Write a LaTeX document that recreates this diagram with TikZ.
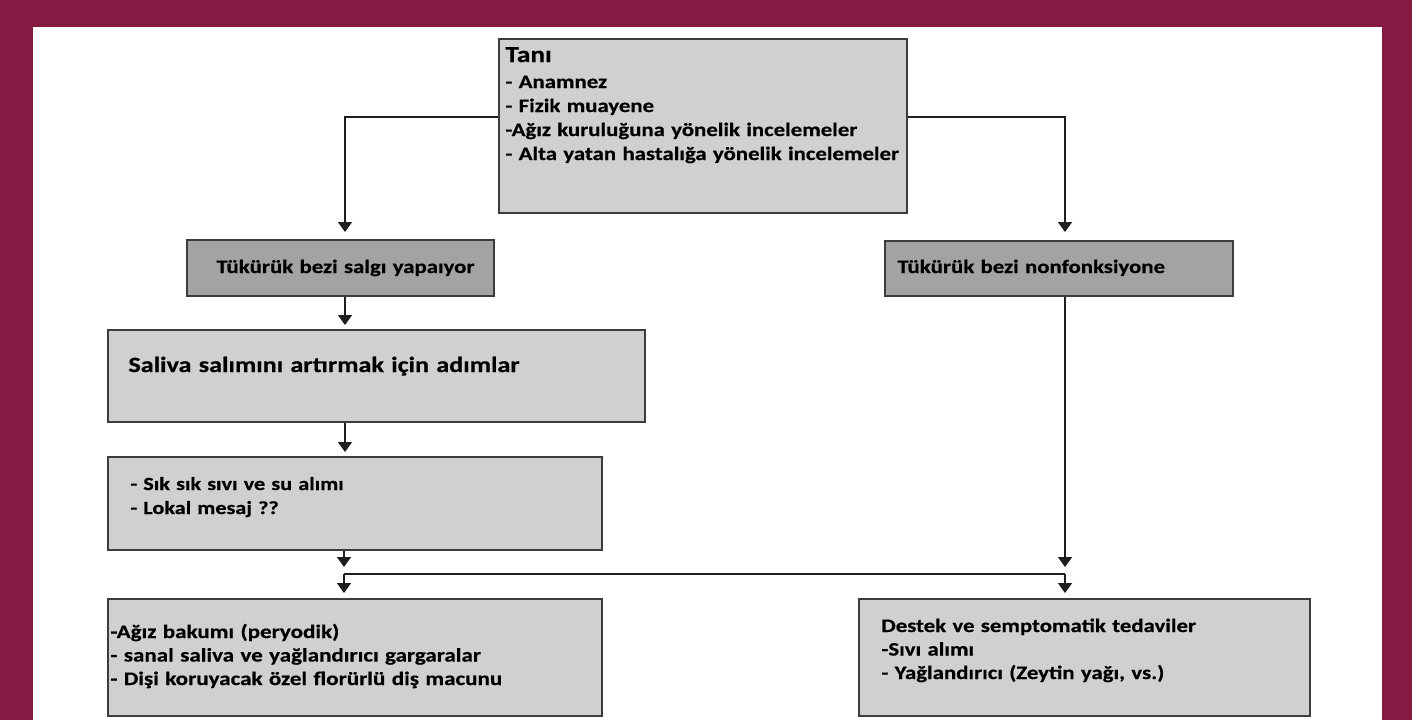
\documentclass[tikz,border=0pt]{standalone}
\usepackage{fontspec}
\setmainfont{Carlito}
\newfontfamily\boxfont[FakeStretch=1.2, BoldFeatures={FakeBold=0.5}]{Carlito}
\usetikzlibrary{arrows.meta}
\definecolor{frame}{HTML}{871A43}
\definecolor{boxlight}{HTML}{D0D0D0}
\definecolor{boxdark}{HTML}{A3A3A3}
\definecolor{edge}{HTML}{3C3C3C}
\definecolor{wire}{HTML}{1E1E1E}
\begin{document}
\begin{tikzpicture}[x=0.5pt,y=-0.5pt,
  box/.style={draw=edge, line width=1pt, inner sep=0pt, anchor=north west},
  lightbox/.style={box, fill=boxlight},
  darkbox/.style={box, fill=boxdark},
  txt/.style={anchor=base west, inner sep=0pt, align=left, text width=#1},
  txt/.default=230pt,
  wireline/.style={draw=wire, line width=0.8pt},
  arr/.style={wireline, -{Triangle[width=7pt,length=5pt]}}
]
\useasboundingbox (0,0) rectangle (1412,720);
% frame
\fill[frame] (0,0) rectangle (1412,720);
\fill[white] (33,27) rectangle (1382,720);

% boxes
\node[lightbox, minimum width=204pt, minimum height=87pt] (tani) at (498,38) {};
\node[darkbox, minimum width=153.5pt, minimum height=28pt] (salgi) at (186,239) {};
\node[darkbox, minimum width=174pt, minimum height=27.5pt] (nonf) at (884,240) {};
\node[lightbox, minimum width=268.5pt, minimum height=46pt] (saliva) at (107,329) {};
\node[lightbox, minimum width=247pt, minimum height=46.5pt] (sik) at (107,456) {};
\node[lightbox, minimum width=247pt, minimum height=58.5pt] (agiz) at (107,598) {};
\node[lightbox, minimum width=225.5pt, minimum height=58.5pt] (destek) at (858,598) {};

% texts
\node[txt, font=\boxfont\bfseries\fontsize{9.5}{12}\selectfont] (tanitext) at (505,62)
  {{\fontsize{11.4}{12}\selectfont Tanı}\\[1pt]- Anamnez\\- Fizik muayene\\-Ağız kuruluğuna yönelik incelemeler\\- Alta yatan hastalığa yönelik incelemeler};
\node[txt, font=\boxfont\bfseries\fontsize{9.5}{11}\selectfont] (salgitext) at (216,273)
  {Tükürük bezi salgı yapaıyor};
\node[txt, font=\boxfont\bfseries\fontsize{9.5}{11}\selectfont] (nonftext) at (897,273)
  {Tükürük bezi nonfonksiyone};
\node[txt=260pt, font=\boxfont\bfseries\fontsize{10.9}{13}\selectfont] (salivatext) at (128,372)
  {Saliva salımını artırmak için adımlar};
\node[txt, font=\boxfont\bfseries\fontsize{9.25}{12}\selectfont] (siktext) at (130,490)
  {- Sık sık sıvı ve su alımı\\- Lokal mesaj ??};
\node[txt, font=\boxfont\bfseries\fontsize{9.6}{11.75}\selectfont] (agiztext) at (110,638)
  {-Ağız bakumı (peryodik)\\- sanal saliva ve yağlandırıcı gargaralar\\- Dişi koruyacak özel florürlü diş macunu};
\node[txt, font=\boxfont\bfseries\fontsize{9.5}{11.75}\selectfont] (destektext) at (881,632)
  {Destek ve semptomatik tedaviler\\-Sıvı alımı\\- Yağlandırıcı (Zeytin yağı, vs.)};

% connector bends and junctions
\coordinate (tl) at (345,117);
\coordinate (tr) at (1065,117);
\coordinate (ja) at (344,567);
\coordinate (jb) at (344,574);
\coordinate (ka) at (1065,567);
\coordinate (kb) at (1065,574);

% connectors
\draw[arr, shorten >=3.5pt] (tani.west |- tl) -- (tl) -- (tl |- salgi.north);
\draw[arr, shorten >=4pt] (tani.east |- tr) -- (tr) -- (tr |- nonf.north);
\draw[arr, shorten >=2pt] (tl |- salgi.south) -- (tl |- saliva.north);
\draw[arr, shorten >=2pt] (tl |- saliva.south) -- (tl |- sik.north);
\draw[arr] (ja |- sik.south) -- (ja);
\draw[arr] (ka |- nonf.south) -- (ka);
\draw[wireline] (jb) -- (kb);
\draw[arr, shorten >=2.5pt] (jb) -- (jb |- agiz.north);
\draw[arr, shorten >=2.5pt] (kb) -- (kb |- destek.north);
\end{tikzpicture}
\end{document}
